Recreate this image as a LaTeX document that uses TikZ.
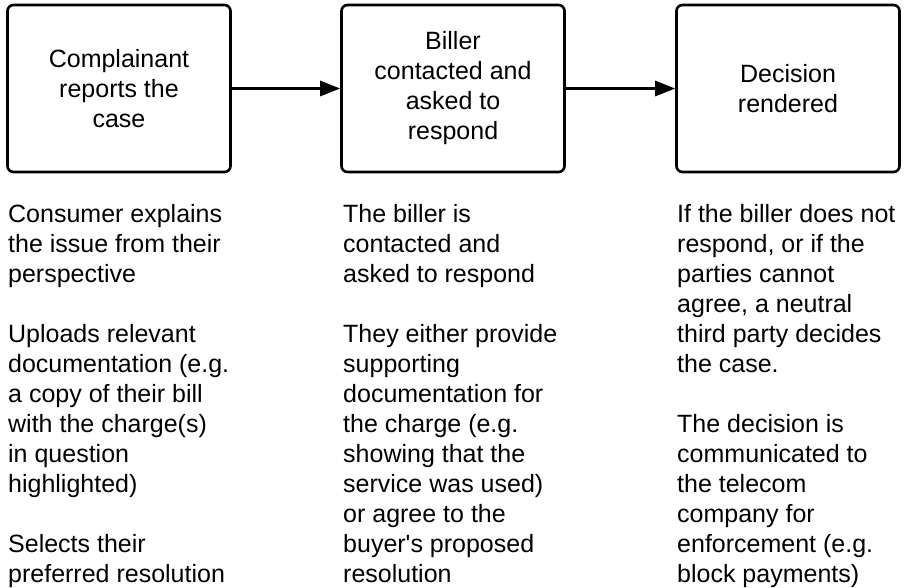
\documentclass[tikz,border=0pt]{standalone}
\usepackage{fontspec}
\setmainfont{Liberation Sans}
\usetikzlibrary{positioning,arrows.meta}

\begin{document}
\begin{tikzpicture}[x=1pt, y=-1pt,
        every node/.style={font=\fontsize{25}{30}\selectfont},
        stagebox/.style={draw, line width=2.6pt, rounded corners=6pt, align=center,
            minimum width=223pt, minimum height=167pt, inner sep=0pt},
        notes/.style={anchor=north west, align=left, inner sep=0pt},
        flow/.style={line width=2.6pt, -{Triangle[length=20pt, width=15pt]}}]
            \useasboundingbox (0, 0) rectangle (910, 587);

            \node (B1)[stagebox] at (119, 88.5) {Complainant \\ reports the \\ case};
            \node (B2)[stagebox] at (453, 88.5) {Biller \\ contacted and \\ asked to \\ respond};
            \node (B3)[stagebox] at (788, 88.5) {Decision \\ rendered};
            \draw[flow] (B1) -- (B2);
            \draw[flow] (B2) -- (B3);

            \node (N1)[notes] at (8, 204) {Consumer explains \\ the issue from their \\ perspective \\[30pt]
                Uploads relevant \\ documentation (e.g. \\ a copy of their bill \\ with the charge(s) \\ in question \\ highlighted) \\[30pt]
                Selects their \\ preferred resolution};
            \node (N2)[notes] at (343, 204) {The biller is \\ contacted and \\ asked to respond \\[30pt]
                They either provide \\ supporting \\ documentation for \\ the charge (e.g. \\ showing that the \\ service was used) \\ or agree to the \\ buyer\textquotesingle s proposed \\ resolution};
            \node (N3)[notes] at (677, 204) {If the biller does not \\ respond, or if the \\ parties cannot \\ agree, a neutral \\ third party decides \\ the case. \\[30pt]
                The decision is \\ communicated to \\ the telecom \\ company for \\ enforcement (e.g. \\ block payments)};
    \end{tikzpicture}
\end{document}
